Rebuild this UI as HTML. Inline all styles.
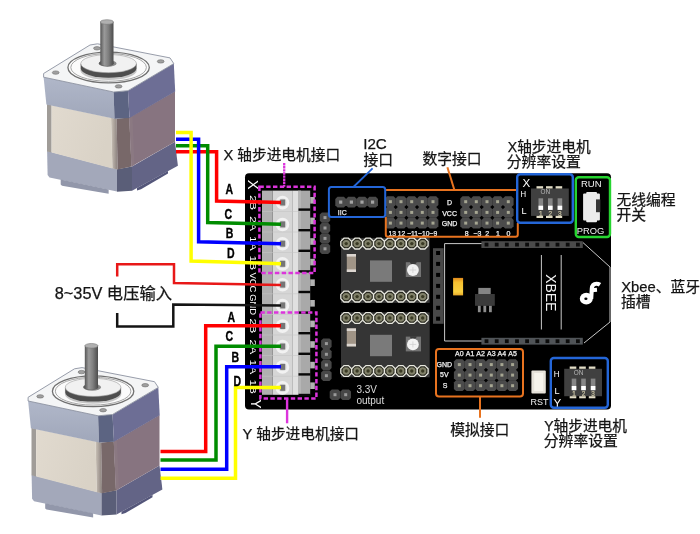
<!DOCTYPE html>
<html lang="zh"><head><meta charset="utf-8"><title>Stepper shield wiring</title>
<style>
html,body{margin:0;padding:0;background:#fff;overflow:hidden;}
svg{display:block;font-family:"Liberation Sans", "Noto Sans CJK SC", sans-serif;filter:blur(0.45px);}
</style></head>
<body>
<svg width="700" height="534" viewBox="0 0 700 534">
<defs>
<linearGradient id="gShaft" x1="0" y1="0" x2="1" y2="0">
<stop offset="0" stop-color="#565656"/><stop offset="0.3" stop-color="#9a9a9a"/><stop offset="0.6" stop-color="#808080"/><stop offset="1" stop-color="#4c4c4c"/>
</linearGradient>
<linearGradient id="gCapL" x1="0" y1="0" x2="0" y2="1">
<stop offset="0" stop-color="#b0b7c9"/><stop offset="1" stop-color="#a0a7ba"/>
</linearGradient>
<linearGradient id="gBeige" x1="0" y1="0" x2="1" y2="0.3">
<stop offset="0" stop-color="#e1dacf"/><stop offset="1" stop-color="#d9d2c6"/>
</linearGradient>
<linearGradient id="gStrip" x1="0" y1="0" x2="1" y2="0">
<stop offset="0" stop-color="#cbc3b8"/><stop offset="1" stop-color="#8a807d"/>
</linearGradient>
<linearGradient id="gLed" x1="0" y1="0" x2="0" y2="1">
<stop offset="0" stop-color="#e08a1c"/><stop offset="0.25" stop-color="#f6c030"/><stop offset="0.8" stop-color="#f8d040"/><stop offset="1" stop-color="#e8a828"/>
</linearGradient>
</defs>
<rect width="700" height="534" fill="#ffffff"/>
<rect x="245" y="173.3" width="366" height="236.2" rx="4" fill="#000000"/>
<g>
<!-- lower cap -->
<polygon points="47.1,151 117,169.3 117,191.6 49.5,177.5 47.6,175" fill="#a3a8ba"/>
<polygon points="60.7,179.5 108.6,189.5 108.6,193.8 62,185.8 60.7,184.6" fill="#9297aa"/>
<polygon points="117,169.3 132,166.4 132,190.7 117,191.8" fill="#5a5e78"/>
<polygon points="132,166.4 175,141.8 177.9,165.7 132,190.7" fill="#636486"/>
<polygon points="137,188 137,190.5 141,189.2 168,173.5 168,171" fill="#54567a"/>
<!-- mid -->
<polygon points="47,104 51.6,105.2 51.6,152.6 47,151.4" fill="#a09c98"/>
<polygon points="51.6,105.2 111,117.7 112.4,168.4 51.6,152.6" fill="url(#gBeige)"/>
<polygon points="111,117.7 116.6,118.8 117.6,169.4 112.4,168.4" fill="url(#gStrip)"/>
<polygon points="116.6,118.8 129.3,117.6 131.5,166.6 117.6,169.4" fill="#786869"/>
<polygon points="129.3,117.6 175,91.2 175,141.8 131.5,166.6" fill="#877480"/>
<polygon points="129.3,117.6 132.4,115.8 134.4,165 131.5,166.6" fill="#8b7982"/>
<!-- top cap -->
<polygon points="43.6,77 113.6,92 114.5,118.8 46.4,104.4" fill="url(#gCapL)"/>
<polygon points="113.6,92 128,90.7 129.5,118 114.5,118.8" fill="#5c6482"/>
<polygon points="128,90.7 173.8,63.6 175.2,91.4 129.5,118" fill="#6d6e95"/>
<!-- top face -->
<polygon points="43.6,73.5 90,45 97.5,43.8 170,57.9 173.8,63.6 128,90.7 113.6,92 43.6,77.2" fill="#f4f5f6" stroke="#8c92a0" stroke-width="0.9"/>
<ellipse cx="108.6" cy="67.5" rx="40.7" ry="15.4" fill="#fbfbfb" stroke="#707070" stroke-width="1.3"/>
<ellipse cx="108.6" cy="67.4" rx="37.8" ry="13.9" fill="none" stroke="#9c9c9c" stroke-width="0.9"/>
<path d="M80.4,64 L80.4,70.4 A28.2,9.6 0 0 0 136.8,70.4 L136.8,64 Z" fill="#c6c6c6"/>
<path d="M80.8,63.6 L80.8,68.6 A27.8,9.2 0 0 0 136.4,68.6 L136.4,63.6 Z" fill="#4e4e4e"/>
<ellipse cx="108.6" cy="63.6" rx="27.8" ry="9.1" fill="#f1f1f1" stroke="#9a9a9a" stroke-width="0.6"/>
<ellipse cx="107.6" cy="63.4" rx="9" ry="3.5" fill="#8a8a8a"/>
<ellipse cx="106.4" cy="63.2" rx="7.6" ry="2.9" fill="#5e5e5e"/>
<ellipse cx="55.7" cy="72.6" rx="3.4" ry="1.7" fill="#a0a0a0" stroke="#6a6a6a" stroke-width="0.6"/>
<ellipse cx="97" cy="48.3" rx="3.4" ry="1.7" fill="#a0a0a0" stroke="#6a6a6a" stroke-width="0.6"/>
<ellipse cx="160.7" cy="61.4" rx="3.4" ry="1.7" fill="#a0a0a0" stroke="#6a6a6a" stroke-width="0.6"/>
<ellipse cx="118.6" cy="86.4" rx="3.4" ry="1.7" fill="#a0a0a0" stroke="#6a6a6a" stroke-width="0.6"/>
<!-- shaft -->
<path d="M100.3,22 L100.3,63.6 A6.6,2.4 0 0 0 113.5,63.6 L113.5,22 Z" fill="url(#gShaft)"/>
<ellipse cx="106.9" cy="22" rx="6.6" ry="2.3" fill="#b0b0b0" stroke="#787878" stroke-width="0.6"/>
</g>
<g transform="translate(-15.5,323.8)">
<!-- lower cap -->
<polygon points="47.1,151 117,169.3 117,191.6 49.5,177.5 47.6,175" fill="#a3a8ba"/>
<polygon points="60.7,179.5 108.6,189.5 108.6,193.8 62,185.8 60.7,184.6" fill="#9297aa"/>
<polygon points="117,169.3 132,166.4 132,190.7 117,191.8" fill="#5a5e78"/>
<polygon points="132,166.4 175,141.8 177.9,165.7 132,190.7" fill="#636486"/>
<polygon points="137,188 137,190.5 141,189.2 168,173.5 168,171" fill="#54567a"/>
<!-- mid -->
<polygon points="47,104 51.6,105.2 51.6,152.6 47,151.4" fill="#a09c98"/>
<polygon points="51.6,105.2 111,117.7 112.4,168.4 51.6,152.6" fill="url(#gBeige)"/>
<polygon points="111,117.7 116.6,118.8 117.6,169.4 112.4,168.4" fill="url(#gStrip)"/>
<polygon points="116.6,118.8 129.3,117.6 131.5,166.6 117.6,169.4" fill="#786869"/>
<polygon points="129.3,117.6 175,91.2 175,141.8 131.5,166.6" fill="#877480"/>
<polygon points="129.3,117.6 132.4,115.8 134.4,165 131.5,166.6" fill="#8b7982"/>
<!-- top cap -->
<polygon points="43.6,77 113.6,92 114.5,118.8 46.4,104.4" fill="url(#gCapL)"/>
<polygon points="113.6,92 128,90.7 129.5,118 114.5,118.8" fill="#5c6482"/>
<polygon points="128,90.7 173.8,63.6 175.2,91.4 129.5,118" fill="#6d6e95"/>
<!-- top face -->
<polygon points="43.6,73.5 90,45 97.5,43.8 170,57.9 173.8,63.6 128,90.7 113.6,92 43.6,77.2" fill="#f4f5f6" stroke="#8c92a0" stroke-width="0.9"/>
<ellipse cx="108.6" cy="67.5" rx="40.7" ry="15.4" fill="#fbfbfb" stroke="#707070" stroke-width="1.3"/>
<ellipse cx="108.6" cy="67.4" rx="37.8" ry="13.9" fill="none" stroke="#9c9c9c" stroke-width="0.9"/>
<path d="M80.4,64 L80.4,70.4 A28.2,9.6 0 0 0 136.8,70.4 L136.8,64 Z" fill="#c6c6c6"/>
<path d="M80.8,63.6 L80.8,68.6 A27.8,9.2 0 0 0 136.4,68.6 L136.4,63.6 Z" fill="#4e4e4e"/>
<ellipse cx="108.6" cy="63.6" rx="27.8" ry="9.1" fill="#f1f1f1" stroke="#9a9a9a" stroke-width="0.6"/>
<ellipse cx="107.6" cy="63.4" rx="9" ry="3.5" fill="#8a8a8a"/>
<ellipse cx="106.4" cy="63.2" rx="7.6" ry="2.9" fill="#5e5e5e"/>
<ellipse cx="55.7" cy="72.6" rx="3.4" ry="1.7" fill="#a0a0a0" stroke="#6a6a6a" stroke-width="0.6"/>
<ellipse cx="97" cy="48.3" rx="3.4" ry="1.7" fill="#a0a0a0" stroke="#6a6a6a" stroke-width="0.6"/>
<ellipse cx="160.7" cy="61.4" rx="3.4" ry="1.7" fill="#a0a0a0" stroke="#6a6a6a" stroke-width="0.6"/>
<ellipse cx="118.6" cy="86.4" rx="3.4" ry="1.7" fill="#a0a0a0" stroke="#6a6a6a" stroke-width="0.6"/>
<!-- shaft -->
<path d="M100.3,22 L100.3,63.6 A6.6,2.4 0 0 0 113.5,63.6 L113.5,22 Z" fill="url(#gShaft)"/>
<ellipse cx="106.9" cy="22" rx="6.6" ry="2.3" fill="#b0b0b0" stroke="#787878" stroke-width="0.6"/>
</g>
<rect x="262" y="190.6" width="10.6" height="204.2" fill="#b0b0b0"/>
<rect x="272.6" y="190.6" width="19.6" height="204.2" fill="#d6d6d6"/>
<rect x="292.2" y="190.6" width="5.8" height="204.2" fill="#e0e0e0"/>
<rect x="298" y="190.6" width="12.2" height="204.2" fill="#a9a9a9"/>
<rect x="298" y="190.6" width="3" height="204.2" fill="#b6b6b6"/>
<rect x="310.2" y="197.0" width="4.6" height="6.6" fill="#b2b2b2"/>
<rect x="298.5" y="208.4" width="12" height="2.4" fill="#080808"/>
<rect x="262" y="211.0" width="36" height="0.8" fill="#c4c4c4" opacity="0.7"/>
<circle cx="282.5" cy="202.6" r="6.8" fill="#f2f2f2"/>
<circle cx="282.5" cy="202.6" r="4.1" fill="#dcdcdc"/>
<rect x="280.2" y="199.5" width="5" height="6" fill="#767676"/>
<rect x="310.2" y="217.6" width="4.6" height="6.6" fill="#b2b2b2"/>
<rect x="298.5" y="229.0" width="12" height="2.4" fill="#080808"/>
<rect x="262" y="231.6" width="36" height="0.8" fill="#c4c4c4" opacity="0.7"/>
<circle cx="282.5" cy="224.5" r="6.8" fill="#f2f2f2"/>
<circle cx="282.5" cy="224.5" r="4.1" fill="#dcdcdc"/>
<rect x="280.2" y="221.4" width="5" height="6" fill="#767676"/>
<rect x="310.2" y="238.2" width="4.6" height="6.6" fill="#b2b2b2"/>
<rect x="298.5" y="249.6" width="12" height="2.4" fill="#080808"/>
<rect x="262" y="252.2" width="36" height="0.8" fill="#c4c4c4" opacity="0.7"/>
<circle cx="282.5" cy="243.8" r="6.8" fill="#f2f2f2"/>
<circle cx="282.5" cy="243.8" r="4.1" fill="#dcdcdc"/>
<rect x="280.2" y="240.7" width="5" height="6" fill="#767676"/>
<rect x="310.2" y="258.8" width="4.6" height="6.6" fill="#b2b2b2"/>
<rect x="298.5" y="270.2" width="12" height="2.4" fill="#080808"/>
<rect x="262" y="272.8" width="36" height="0.8" fill="#c4c4c4" opacity="0.7"/>
<circle cx="282.5" cy="263.9" r="6.8" fill="#f2f2f2"/>
<circle cx="282.5" cy="263.9" r="4.1" fill="#dcdcdc"/>
<rect x="280.2" y="260.8" width="5" height="6" fill="#767676"/>
<rect x="310.2" y="279.4" width="4.6" height="6.6" fill="#b2b2b2"/>
<rect x="298.5" y="290.8" width="12" height="2.4" fill="#080808"/>
<rect x="262" y="293.4" width="36" height="0.8" fill="#c4c4c4" opacity="0.7"/>
<circle cx="282.5" cy="284.7" r="6.8" fill="#f2f2f2"/>
<circle cx="282.5" cy="284.7" r="4.1" fill="#dcdcdc"/>
<rect x="280.2" y="281.6" width="5" height="6" fill="#767676"/>
<rect x="310.2" y="300.0" width="4.6" height="6.6" fill="#b2b2b2"/>
<rect x="298.5" y="311.4" width="12" height="2.4" fill="#080808"/>
<rect x="262" y="314.0" width="36" height="0.8" fill="#c4c4c4" opacity="0.7"/>
<circle cx="282.5" cy="305.5" r="6.8" fill="#f2f2f2"/>
<circle cx="282.5" cy="305.5" r="4.1" fill="#dcdcdc"/>
<rect x="280.2" y="302.4" width="5" height="6" fill="#767676"/>
<rect x="310.2" y="320.6" width="4.6" height="6.6" fill="#b2b2b2"/>
<rect x="298.5" y="332.0" width="12" height="2.4" fill="#080808"/>
<rect x="262" y="334.6" width="36" height="0.8" fill="#c4c4c4" opacity="0.7"/>
<circle cx="282.5" cy="326.1" r="6.8" fill="#f2f2f2"/>
<circle cx="282.5" cy="326.1" r="4.1" fill="#dcdcdc"/>
<rect x="280.2" y="323.0" width="5" height="6" fill="#767676"/>
<rect x="310.2" y="341.2" width="4.6" height="6.6" fill="#b2b2b2"/>
<rect x="298.5" y="352.6" width="12" height="2.4" fill="#080808"/>
<rect x="262" y="355.2" width="36" height="0.8" fill="#c4c4c4" opacity="0.7"/>
<circle cx="282.5" cy="346.6" r="6.8" fill="#f2f2f2"/>
<circle cx="282.5" cy="346.6" r="4.1" fill="#dcdcdc"/>
<rect x="280.2" y="343.5" width="5" height="6" fill="#767676"/>
<rect x="310.2" y="361.8" width="4.6" height="6.6" fill="#b2b2b2"/>
<rect x="298.5" y="373.2" width="12" height="2.4" fill="#080808"/>
<rect x="262" y="375.8" width="36" height="0.8" fill="#c4c4c4" opacity="0.7"/>
<circle cx="282.5" cy="367.0" r="6.8" fill="#f2f2f2"/>
<circle cx="282.5" cy="367.0" r="4.1" fill="#dcdcdc"/>
<rect x="280.2" y="363.9" width="5" height="6" fill="#767676"/>
<rect x="310.2" y="382.4" width="4.6" height="6.6" fill="#b2b2b2"/>
<rect x="298.5" y="393.8" width="12" height="2.4" fill="#080808"/>
<circle cx="282.5" cy="387.9" r="6.8" fill="#f2f2f2"/>
<circle cx="282.5" cy="387.9" r="4.1" fill="#dcdcdc"/>
<rect x="280.2" y="384.8" width="5" height="6" fill="#767676"/>
<text transform="translate(249.8,195.2) rotate(90)" font-size="9.4" fill="#ffffff" textLength="14.8" lengthAdjust="spacingAndGlyphs">2B</text>
<text transform="translate(249.8,216.3) rotate(90)" font-size="9.4" fill="#ffffff" textLength="14.7" lengthAdjust="spacingAndGlyphs">2A</text>
<text transform="translate(249.8,236.0) rotate(90)" font-size="9.4" fill="#ffffff" textLength="14.6" lengthAdjust="spacingAndGlyphs">1A</text>
<text transform="translate(249.8,255.6) rotate(90)" font-size="9.4" fill="#ffffff" textLength="14.4" lengthAdjust="spacingAndGlyphs">1B</text>
<text transform="translate(249.8,272.4) rotate(90)" font-size="9.4" fill="#ffffff" textLength="20.1" lengthAdjust="spacingAndGlyphs">VCC</text>
<text transform="translate(249.8,294.2) rotate(90)" font-size="9.4" fill="#ffffff" textLength="20.8" lengthAdjust="spacingAndGlyphs">GND</text>
<text transform="translate(249.8,318.5) rotate(90)" font-size="9.4" fill="#ffffff" textLength="14.8" lengthAdjust="spacingAndGlyphs">2B</text>
<text transform="translate(249.8,339.5) rotate(90)" font-size="9.4" fill="#ffffff" textLength="14.7" lengthAdjust="spacingAndGlyphs">2A</text>
<text transform="translate(249.8,359.5) rotate(90)" font-size="9.4" fill="#ffffff" textLength="14.7" lengthAdjust="spacingAndGlyphs">1A</text>
<text transform="translate(249.8,379.5) rotate(90)" font-size="9.4" fill="#ffffff" textLength="14.5" lengthAdjust="spacingAndGlyphs">1B</text>
<text transform="translate(248.4,179.8) rotate(90)" font-size="15" fill="#fff" textLength="9.8" lengthAdjust="spacingAndGlyphs">X</text>
<text transform="translate(251,399.6) rotate(90)" font-size="14" fill="#fff" textLength="9" lengthAdjust="spacingAndGlyphs">Y</text>
<rect x="259.4" y="186.8" width="55.2" height="86.3" fill="none" stroke="#dc34dc" stroke-width="2.5" stroke-dasharray="4.4 2.4"/>
<rect x="260.4" y="312.6" width="56" height="86" fill="none" stroke="#dc34dc" stroke-width="2.5" stroke-dasharray="4.4 2.4"/>
<line x1="284.2" y1="163" x2="284.2" y2="186.8" stroke="#dc34dc" stroke-width="2.3" stroke-dasharray="2.4 0.7"/>
<line x1="287.1" y1="398.6" x2="287.1" y2="423.3" stroke="#dc34dc" stroke-width="2.4"/>
<path d="M176.0,151.7 L216.6,151.7 L216.6,201.1 L281.0,202.5" fill="none" stroke="#ff0000" stroke-width="3.5" stroke-linejoin="miter"/>
<path d="M176.0,145.7 L207.7,145.7 L207.7,222.6 L281.0,224.2" fill="none" stroke="#008c00" stroke-width="3.5" stroke-linejoin="miter"/>
<path d="M176.0,139.3 L198.6,139.3 L198.6,241.7 L281.0,243.7" fill="none" stroke="#0000ff" stroke-width="3.5" stroke-linejoin="miter"/>
<path d="M176.0,132.6 L191.1,132.6 L191.1,261.0 L281.0,263.7" fill="none" stroke="#ffff00" stroke-width="3.5" stroke-linejoin="miter"/>
<path d="M117.2,276.5 L117.2,264.3 L174.0,264.3 L174.0,283.0 L281.0,285.0" fill="none" stroke="#e81818" stroke-width="2.5" stroke-linejoin="miter"/>
<path d="M117.2,313.0 L117.2,326.4 L173.3,326.4 L173.3,304.4 L281.0,305.4" fill="none" stroke="#141414" stroke-width="2.5" stroke-linejoin="miter"/>
<path d="M160.5,478.3 L235.5,478.3 L235.5,387.6 L281.0,387.6" fill="none" stroke="#ffff00" stroke-width="3.5" stroke-linejoin="miter"/>
<path d="M160.5,469.2 L226.7,469.2 L226.7,366.7 L281.0,366.7" fill="none" stroke="#0000ff" stroke-width="3.5" stroke-linejoin="miter"/>
<path d="M160.5,460.0 L216.0,460.0 L216.0,346.3 L281.0,346.3" fill="none" stroke="#008c00" stroke-width="3.5" stroke-linejoin="miter"/>
<path d="M160.5,451.4 L205.7,451.4 L205.7,325.8 L281.0,325.8" fill="none" stroke="#ff0000" stroke-width="3.5" stroke-linejoin="miter"/>
<text x="225.5" y="194.0" font-size="14" font-weight="bold" fill="#000" stroke="#000" stroke-width="0.35" textLength="7.6" lengthAdjust="spacingAndGlyphs">A</text>
<text x="224.5" y="219.4" font-size="14" font-weight="bold" fill="#000" stroke="#000" stroke-width="0.35" textLength="7.6" lengthAdjust="spacingAndGlyphs">C</text>
<text x="225.7" y="238.4" font-size="14" font-weight="bold" fill="#000" stroke="#000" stroke-width="0.35" textLength="7.6" lengthAdjust="spacingAndGlyphs">B</text>
<text x="226.9" y="258.0" font-size="14" font-weight="bold" fill="#000" stroke="#000" stroke-width="0.35" textLength="7.6" lengthAdjust="spacingAndGlyphs">D</text>
<text x="227.6" y="321.8" font-size="14" font-weight="bold" fill="#000" stroke="#000" stroke-width="0.35" textLength="7.6" lengthAdjust="spacingAndGlyphs">A</text>
<text x="225.4" y="340.6" font-size="14" font-weight="bold" fill="#000" stroke="#000" stroke-width="0.35" textLength="7.6" lengthAdjust="spacingAndGlyphs">C</text>
<text x="231.4" y="361.5" font-size="14" font-weight="bold" fill="#000" stroke="#000" stroke-width="0.35" textLength="7.6" lengthAdjust="spacingAndGlyphs">B</text>
<text x="233.6" y="385.5" font-size="14" font-weight="bold" fill="#000" stroke="#000" stroke-width="0.35" textLength="7.6" lengthAdjust="spacingAndGlyphs">D</text>
<polygon points="321.9,212.4 328.1,212.4 330.2,214.5 330.2,220.7 328.1,222.8 321.9,222.8 319.8,220.7 319.8,214.5" fill="#474747"/><rect x="323.5" y="216.1" width="3" height="3" fill="#9a9a9a"/>
<polygon points="321.9,222.8 328.1,222.8 330.2,224.9 330.2,231.1 328.1,233.2 321.9,233.2 319.8,231.1 319.8,224.9" fill="#474747"/><rect x="323.5" y="226.5" width="3" height="3" fill="#9a9a9a"/>
<polygon points="321.9,233.2 328.1,233.2 330.2,235.3 330.2,241.5 328.1,243.6 321.9,243.6 319.8,241.5 319.8,235.3" fill="#474747"/><rect x="323.5" y="236.9" width="3" height="3" fill="#9a9a9a"/>
<polygon points="321.9,243.6 328.1,243.6 330.2,245.7 330.2,251.9 328.1,254.0 321.9,254.0 319.8,251.9 319.8,245.7" fill="#474747"/><rect x="323.5" y="247.3" width="3" height="3" fill="#9a9a9a"/>
<polygon points="323.2,338.4 329.5,338.4 331.6,340.5 331.6,346.8 329.5,348.9 323.2,348.9 321.1,346.8 321.1,340.5" fill="#474747"/><rect x="324.9" y="342.1" width="3" height="3" fill="#9a9a9a"/>
<polygon points="323.2,349.1 329.5,349.1 331.6,351.2 331.6,357.4 329.5,359.6 323.2,359.6 321.1,357.4 321.1,351.2" fill="#474747"/><rect x="324.9" y="352.8" width="3" height="3" fill="#9a9a9a"/>
<polygon points="323.2,359.8 329.5,359.8 331.6,361.9 331.6,368.1 329.5,370.2 323.2,370.2 321.1,368.1 321.1,361.9" fill="#474747"/><rect x="324.9" y="363.5" width="3" height="3" fill="#9a9a9a"/>
<polygon points="323.2,370.4 329.5,370.4 331.6,372.6 331.6,378.8 329.5,380.9 323.2,380.9 321.1,378.8 321.1,372.6" fill="#474747"/><rect x="324.9" y="374.2" width="3" height="3" fill="#9a9a9a"/>
<polygon points="331.8,389.4 338.2,389.4 340.3,391.5 340.3,397.9 338.2,400.0 331.8,400.0 329.7,397.9 329.7,391.5" fill="#474747"/><rect x="333.5" y="393.2" width="3" height="3" fill="#9a9a9a"/>
<polygon points="342.5,389.4 348.9,389.4 351.0,391.5 351.0,397.9 348.9,400.0 342.5,400.0 340.4,397.9 340.4,391.5" fill="#474747"/><rect x="344.2" y="393.2" width="3" height="3" fill="#9a9a9a"/>
<text x="356.4" y="393" font-size="10" fill="#dcdcdc">3.3V</text>
<text x="356.4" y="403.8" font-size="10" fill="#dcdcdc">output</text>
<polygon points="337.5,196.8 343.9,196.8 346.1,198.9 346.1,205.3 343.9,207.4 337.5,207.4 335.3,205.3 335.3,198.9" fill="#4a4a4a"/><rect x="339.1" y="200.5" width="3.2" height="3.2" fill="#a4a4a4"/>
<polygon points="348.2,196.8 354.6,196.8 356.8,198.9 356.8,205.3 354.6,207.4 348.2,207.4 346.0,205.3 346.0,198.9" fill="#4a4a4a"/><rect x="349.8" y="200.5" width="3.2" height="3.2" fill="#a4a4a4"/>
<polygon points="358.8,196.8 365.2,196.8 367.4,198.9 367.4,205.3 365.2,207.4 358.8,207.4 356.6,205.3 356.6,198.9" fill="#4a4a4a"/><rect x="360.4" y="200.5" width="3.2" height="3.2" fill="#a4a4a4"/>
<polygon points="369.4,196.8 375.8,196.8 378.0,198.9 378.0,205.3 375.8,207.4 369.4,207.4 367.2,205.3 367.2,198.9" fill="#4a4a4a"/><rect x="371.0" y="200.5" width="3.2" height="3.2" fill="#a4a4a4"/>
<text x="337.8" y="214.8" font-size="7" fill="#e8e8e8" stroke="#e8e8e8" stroke-width="0.25">IIC</text>
<polygon points="387.2,196.3 393.6,196.3 395.8,198.5 395.8,204.9 393.6,207.0 387.2,207.0 385.0,204.9 385.0,198.5" fill="#4b4b4b"/><rect x="388.9" y="200.2" width="3.0" height="3.0" fill="#a6a692"/>
<polygon points="387.2,207.1 393.6,207.1 395.8,209.2 395.8,215.6 393.6,217.8 387.2,217.8 385.0,215.6 385.0,209.2" fill="#4b4b4b"/><rect x="388.9" y="210.9" width="3.0" height="3.0" fill="#a6a692"/>
<polygon points="387.2,217.8 393.6,217.8 395.8,219.9 395.8,226.3 393.6,228.4 387.2,228.4 385.0,226.3 385.0,219.9" fill="#4b4b4b"/><rect x="388.9" y="221.6" width="3.0" height="3.0" fill="#a6a692"/>
<polygon points="397.8,196.3 404.3,196.3 406.4,198.5 406.4,204.9 404.3,207.0 397.8,207.0 395.7,204.9 395.7,198.5" fill="#4b4b4b"/><rect x="399.5" y="200.2" width="3.0" height="3.0" fill="#a6a692"/>
<polygon points="397.8,207.1 404.3,207.1 406.4,209.2 406.4,215.6 404.3,217.8 397.8,217.8 395.7,215.6 395.7,209.2" fill="#4b4b4b"/><rect x="399.5" y="210.9" width="3.0" height="3.0" fill="#a6a692"/>
<polygon points="397.8,217.8 404.3,217.8 406.4,219.9 406.4,226.3 404.3,228.4 397.8,228.4 395.7,226.3 395.7,219.9" fill="#4b4b4b"/><rect x="399.5" y="221.6" width="3.0" height="3.0" fill="#a6a692"/>
<polygon points="408.5,196.3 414.9,196.3 417.1,198.5 417.1,204.9 414.9,207.0 408.5,207.0 406.3,204.9 406.3,198.5" fill="#4b4b4b"/><rect x="410.2" y="200.2" width="3.0" height="3.0" fill="#a6a692"/>
<polygon points="408.5,207.1 414.9,207.1 417.1,209.2 417.1,215.6 414.9,217.8 408.5,217.8 406.3,215.6 406.3,209.2" fill="#4b4b4b"/><rect x="410.2" y="210.9" width="3.0" height="3.0" fill="#a6a692"/>
<polygon points="408.5,217.8 414.9,217.8 417.1,219.9 417.1,226.3 414.9,228.4 408.5,228.4 406.3,226.3 406.3,219.9" fill="#4b4b4b"/><rect x="410.2" y="221.6" width="3.0" height="3.0" fill="#a6a692"/>
<polygon points="419.1,196.3 425.6,196.3 427.7,198.5 427.7,204.9 425.6,207.0 419.1,207.0 417.0,204.9 417.0,198.5" fill="#4b4b4b"/><rect x="420.8" y="200.2" width="3.0" height="3.0" fill="#a6a692"/>
<polygon points="419.1,207.1 425.6,207.1 427.7,209.2 427.7,215.6 425.6,217.8 419.1,217.8 417.0,215.6 417.0,209.2" fill="#4b4b4b"/><rect x="420.8" y="210.9" width="3.0" height="3.0" fill="#a6a692"/>
<polygon points="419.1,217.8 425.6,217.8 427.7,219.9 427.7,226.3 425.6,228.4 419.1,228.4 417.0,226.3 417.0,219.9" fill="#4b4b4b"/><rect x="420.8" y="221.6" width="3.0" height="3.0" fill="#a6a692"/>
<polygon points="429.8,196.3 436.2,196.3 438.4,198.5 438.4,204.9 436.2,207.0 429.8,207.0 427.6,204.9 427.6,198.5" fill="#4b4b4b"/><rect x="431.5" y="200.2" width="3.0" height="3.0" fill="#a6a692"/>
<polygon points="429.8,207.1 436.2,207.1 438.4,209.2 438.4,215.6 436.2,217.8 429.8,217.8 427.6,215.6 427.6,209.2" fill="#4b4b4b"/><rect x="431.5" y="210.9" width="3.0" height="3.0" fill="#a6a692"/>
<polygon points="429.8,217.8 436.2,217.8 438.4,219.9 438.4,226.3 436.2,228.4 429.8,228.4 427.6,226.3 427.6,219.9" fill="#4b4b4b"/><rect x="431.5" y="221.6" width="3.0" height="3.0" fill="#a6a692"/>
<polygon points="462.5,196.3 468.9,196.3 471.1,198.5 471.1,204.9 468.9,207.0 462.5,207.0 460.3,204.9 460.3,198.5" fill="#4b4b4b"/><rect x="464.2" y="200.2" width="3.0" height="3.0" fill="#a6a692"/>
<polygon points="462.5,207.1 468.9,207.1 471.1,209.2 471.1,215.6 468.9,217.8 462.5,217.8 460.3,215.6 460.3,209.2" fill="#4b4b4b"/><rect x="464.2" y="210.9" width="3.0" height="3.0" fill="#a6a692"/>
<polygon points="462.5,217.8 468.9,217.8 471.1,219.9 471.1,226.3 468.9,228.4 462.5,228.4 460.3,226.3 460.3,219.9" fill="#4b4b4b"/><rect x="464.2" y="221.6" width="3.0" height="3.0" fill="#a6a692"/>
<polygon points="473.1,196.3 479.6,196.3 481.7,198.5 481.7,204.9 479.6,207.0 473.1,207.0 471.0,204.9 471.0,198.5" fill="#4b4b4b"/><rect x="474.8" y="200.2" width="3.0" height="3.0" fill="#a6a692"/>
<polygon points="473.1,207.1 479.6,207.1 481.7,209.2 481.7,215.6 479.6,217.8 473.1,217.8 471.0,215.6 471.0,209.2" fill="#4b4b4b"/><rect x="474.8" y="210.9" width="3.0" height="3.0" fill="#a6a692"/>
<polygon points="473.1,217.8 479.6,217.8 481.7,219.9 481.7,226.3 479.6,228.4 473.1,228.4 471.0,226.3 471.0,219.9" fill="#4b4b4b"/><rect x="474.8" y="221.6" width="3.0" height="3.0" fill="#a6a692"/>
<polygon points="483.8,196.3 490.2,196.3 492.4,198.5 492.4,204.9 490.2,207.0 483.8,207.0 481.6,204.9 481.6,198.5" fill="#4b4b4b"/><rect x="485.5" y="200.2" width="3.0" height="3.0" fill="#a6a692"/>
<polygon points="483.8,207.1 490.2,207.1 492.4,209.2 492.4,215.6 490.2,217.8 483.8,217.8 481.6,215.6 481.6,209.2" fill="#4b4b4b"/><rect x="485.5" y="210.9" width="3.0" height="3.0" fill="#a6a692"/>
<polygon points="483.8,217.8 490.2,217.8 492.4,219.9 492.4,226.3 490.2,228.4 483.8,228.4 481.6,226.3 481.6,219.9" fill="#4b4b4b"/><rect x="485.5" y="221.6" width="3.0" height="3.0" fill="#a6a692"/>
<polygon points="494.4,196.3 500.9,196.3 503.0,198.5 503.0,204.9 500.9,207.0 494.4,207.0 492.3,204.9 492.3,198.5" fill="#4b4b4b"/><rect x="496.1" y="200.2" width="3.0" height="3.0" fill="#a6a692"/>
<polygon points="494.4,207.1 500.9,207.1 503.0,209.2 503.0,215.6 500.9,217.8 494.4,217.8 492.3,215.6 492.3,209.2" fill="#4b4b4b"/><rect x="496.1" y="210.9" width="3.0" height="3.0" fill="#a6a692"/>
<polygon points="494.4,217.8 500.9,217.8 503.0,219.9 503.0,226.3 500.9,228.4 494.4,228.4 492.3,226.3 492.3,219.9" fill="#4b4b4b"/><rect x="496.1" y="221.6" width="3.0" height="3.0" fill="#a6a692"/>
<polygon points="505.1,196.3 511.5,196.3 513.6,198.5 513.6,204.9 511.5,207.0 505.1,207.0 502.9,204.9 502.9,198.5" fill="#4b4b4b"/><rect x="506.8" y="200.2" width="3.0" height="3.0" fill="#a6a692"/>
<polygon points="505.1,207.1 511.5,207.1 513.6,209.2 513.6,215.6 511.5,217.8 505.1,217.8 502.9,215.6 502.9,209.2" fill="#4b4b4b"/><rect x="506.8" y="210.9" width="3.0" height="3.0" fill="#a6a692"/>
<polygon points="505.1,217.8 511.5,217.8 513.6,219.9 513.6,226.3 511.5,228.4 505.1,228.4 502.9,226.3 502.9,219.9" fill="#4b4b4b"/><rect x="506.8" y="221.6" width="3.0" height="3.0" fill="#a6a692"/>
<text x="449.6" y="205.0" font-size="7" fill="#f0f0f0" stroke="#f0f0f0" stroke-width="0.25" text-anchor="middle" >D</text>
<text x="449.6" y="215.8" font-size="7" fill="#f0f0f0" stroke="#f0f0f0" stroke-width="0.25" text-anchor="middle" >VCC</text>
<text x="449.6" y="226.2" font-size="7" fill="#f0f0f0" stroke="#f0f0f0" stroke-width="0.25" text-anchor="middle" >GND</text>
<text x="388.4" y="235.6" font-size="7" fill="#f0f0f0" stroke="#f0f0f0" stroke-width="0.25" textLength="48.8" lengthAdjust="spacingAndGlyphs">13 12 ~11~10~9</text>
<text x="466.8" y="235.6" font-size="7" fill="#f0f0f0" stroke="#f0f0f0" stroke-width="0.25" text-anchor="middle" >8</text>
<text x="477.4" y="235.6" font-size="7" fill="#f0f0f0" stroke="#f0f0f0" stroke-width="0.25" text-anchor="middle" >~3</text>
<text x="487.2" y="235.6" font-size="7" fill="#f0f0f0" stroke="#f0f0f0" stroke-width="0.25" text-anchor="middle" >2</text>
<text x="498.0" y="235.6" font-size="7" fill="#f0f0f0" stroke="#f0f0f0" stroke-width="0.25" text-anchor="middle" >1</text>
<text x="508.4" y="235.6" font-size="7" fill="#f0f0f0" stroke="#f0f0f0" stroke-width="0.25" text-anchor="middle" >0</text>
<rect x="341" y="237.9" width="88.7" height="65" fill="#353535"/>
<polygon points="344.0,238.2 348.4,238.2 351.6,241.4 351.6,245.8 348.4,249.0 344.0,249.0 340.8,245.8 340.8,241.4" fill="#26261c" stroke="#e8e8df" stroke-width="1.3"/><circle cx="346.2" cy="243.6" r="3.7" fill="#82826a"/><circle cx="346.2" cy="243.6" r="1.7" fill="#3a3a24"/>
<polygon points="344.0,291.2 348.4,291.2 351.6,294.4 351.6,298.8 348.4,302.0 344.0,302.0 340.8,298.8 340.8,294.4" fill="#26261c" stroke="#e8e8df" stroke-width="1.3"/><circle cx="346.2" cy="296.6" r="3.7" fill="#82826a"/><circle cx="346.2" cy="296.6" r="1.7" fill="#3a3a24"/>
<polygon points="355.0,238.2 359.3,238.2 362.5,241.4 362.5,245.8 359.3,249.0 355.0,249.0 351.7,245.8 351.7,241.4" fill="#26261c" stroke="#e8e8df" stroke-width="1.3"/><circle cx="357.1" cy="243.6" r="3.7" fill="#82826a"/><circle cx="357.1" cy="243.6" r="1.7" fill="#3a3a24"/>
<polygon points="355.0,291.2 359.3,291.2 362.5,294.4 362.5,298.8 359.3,302.0 355.0,302.0 351.7,298.8 351.7,294.4" fill="#26261c" stroke="#e8e8df" stroke-width="1.3"/><circle cx="357.1" cy="296.6" r="3.7" fill="#82826a"/><circle cx="357.1" cy="296.6" r="1.7" fill="#3a3a24"/>
<polygon points="365.9,238.2 370.2,238.2 373.5,241.4 373.5,245.8 370.2,249.0 365.9,249.0 362.7,245.8 362.7,241.4" fill="#26261c" stroke="#e8e8df" stroke-width="1.3"/><circle cx="368.1" cy="243.6" r="3.7" fill="#82826a"/><circle cx="368.1" cy="243.6" r="1.7" fill="#3a3a24"/>
<polygon points="365.9,291.2 370.2,291.2 373.5,294.4 373.5,298.8 370.2,302.0 365.9,302.0 362.7,298.8 362.7,294.4" fill="#26261c" stroke="#e8e8df" stroke-width="1.3"/><circle cx="368.1" cy="296.6" r="3.7" fill="#82826a"/><circle cx="368.1" cy="296.6" r="1.7" fill="#3a3a24"/>
<polygon points="376.8,238.2 381.1,238.2 384.4,241.4 384.4,245.8 381.1,249.0 376.8,249.0 373.6,245.8 373.6,241.4" fill="#26261c" stroke="#e8e8df" stroke-width="1.3"/><circle cx="379.0" cy="243.6" r="3.7" fill="#82826a"/><circle cx="379.0" cy="243.6" r="1.7" fill="#3a3a24"/>
<polygon points="376.8,291.2 381.1,291.2 384.4,294.4 384.4,298.8 381.1,302.0 376.8,302.0 373.6,298.8 373.6,294.4" fill="#26261c" stroke="#e8e8df" stroke-width="1.3"/><circle cx="379.0" cy="296.6" r="3.7" fill="#82826a"/><circle cx="379.0" cy="296.6" r="1.7" fill="#3a3a24"/>
<polygon points="387.8,238.2 392.1,238.2 395.3,241.4 395.3,245.8 392.1,249.0 387.8,249.0 384.5,245.8 384.5,241.4" fill="#26261c" stroke="#e8e8df" stroke-width="1.3"/><circle cx="389.9" cy="243.6" r="3.7" fill="#82826a"/><circle cx="389.9" cy="243.6" r="1.7" fill="#3a3a24"/>
<polygon points="387.8,291.2 392.1,291.2 395.3,294.4 395.3,298.8 392.1,302.0 387.8,302.0 384.5,298.8 384.5,294.4" fill="#26261c" stroke="#e8e8df" stroke-width="1.3"/><circle cx="389.9" cy="296.6" r="3.7" fill="#82826a"/><circle cx="389.9" cy="296.6" r="1.7" fill="#3a3a24"/>
<polygon points="398.7,238.2 403.0,238.2 406.2,241.4 406.2,245.8 403.0,249.0 398.7,249.0 395.4,245.8 395.4,241.4" fill="#26261c" stroke="#e8e8df" stroke-width="1.3"/><circle cx="400.8" cy="243.6" r="3.7" fill="#82826a"/><circle cx="400.8" cy="243.6" r="1.7" fill="#3a3a24"/>
<polygon points="398.7,291.2 403.0,291.2 406.2,294.4 406.2,298.8 403.0,302.0 398.7,302.0 395.4,298.8 395.4,294.4" fill="#26261c" stroke="#e8e8df" stroke-width="1.3"/><circle cx="400.8" cy="296.6" r="3.7" fill="#82826a"/><circle cx="400.8" cy="296.6" r="1.7" fill="#3a3a24"/>
<polygon points="409.6,238.2 413.9,238.2 417.2,241.4 417.2,245.8 413.9,249.0 409.6,249.0 406.4,245.8 406.4,241.4" fill="#26261c" stroke="#e8e8df" stroke-width="1.3"/><circle cx="411.8" cy="243.6" r="3.7" fill="#82826a"/><circle cx="411.8" cy="243.6" r="1.7" fill="#3a3a24"/>
<polygon points="409.6,291.2 413.9,291.2 417.2,294.4 417.2,298.8 413.9,302.0 409.6,302.0 406.4,298.8 406.4,294.4" fill="#26261c" stroke="#e8e8df" stroke-width="1.3"/><circle cx="411.8" cy="296.6" r="3.7" fill="#82826a"/><circle cx="411.8" cy="296.6" r="1.7" fill="#3a3a24"/>
<polygon points="420.6,238.2 424.9,238.2 428.1,241.4 428.1,245.8 424.9,249.0 420.6,249.0 417.3,245.8 417.3,241.4" fill="#26261c" stroke="#e8e8df" stroke-width="1.3"/><circle cx="422.7" cy="243.6" r="3.7" fill="#82826a"/><circle cx="422.7" cy="243.6" r="1.7" fill="#3a3a24"/>
<polygon points="420.6,291.2 424.9,291.2 428.1,294.4 428.1,298.8 424.9,302.0 420.6,302.0 417.3,298.8 417.3,294.4" fill="#26261c" stroke="#e8e8df" stroke-width="1.3"/><circle cx="422.7" cy="296.6" r="3.7" fill="#82826a"/><circle cx="422.7" cy="296.6" r="1.7" fill="#3a3a24"/>
<rect x="346.8" y="254.0" width="9.2" height="18" fill="#a09486"/>
<rect x="346.8" y="254.0" width="9.2" height="2.6" fill="#dcd6d0"/>
<rect x="346.8" y="269.4" width="9.2" height="2.6" fill="#dcd6d0"/>
<rect x="370" y="260.4" width="22" height="21.4" fill="#7a7a7a"/>
<rect x="405.8" y="262.2" width="15.2" height="14.8" fill="#747474"/>
<path d="M410,261.8 A3.3,2.8 0 0 0 416.6,261.8 Z" fill="#3a3a3a"/>
<circle cx="412.9" cy="270.0" r="5.9" fill="#f2f2f2"/>
<path d="M409.6,270.0 H416.2 M412.9,267.0 V273.0" stroke="#cfcfcf" stroke-width="0.8" fill="none"/>
<rect x="341" y="312.3" width="88.7" height="65" fill="#353535"/>
<polygon points="344.0,312.6 348.4,312.6 351.6,315.8 351.6,320.2 348.4,323.4 344.0,323.4 340.8,320.2 340.8,315.8" fill="#26261c" stroke="#e8e8df" stroke-width="1.3"/><circle cx="346.2" cy="318.0" r="3.7" fill="#82826a"/><circle cx="346.2" cy="318.0" r="1.7" fill="#3a3a24"/>
<polygon points="344.0,365.6 348.4,365.6 351.6,368.8 351.6,373.2 348.4,376.4 344.0,376.4 340.8,373.2 340.8,368.8" fill="#26261c" stroke="#e8e8df" stroke-width="1.3"/><circle cx="346.2" cy="371.0" r="3.7" fill="#82826a"/><circle cx="346.2" cy="371.0" r="1.7" fill="#3a3a24"/>
<polygon points="355.0,312.6 359.3,312.6 362.5,315.8 362.5,320.2 359.3,323.4 355.0,323.4 351.7,320.2 351.7,315.8" fill="#26261c" stroke="#e8e8df" stroke-width="1.3"/><circle cx="357.1" cy="318.0" r="3.7" fill="#82826a"/><circle cx="357.1" cy="318.0" r="1.7" fill="#3a3a24"/>
<polygon points="355.0,365.6 359.3,365.6 362.5,368.8 362.5,373.2 359.3,376.4 355.0,376.4 351.7,373.2 351.7,368.8" fill="#26261c" stroke="#e8e8df" stroke-width="1.3"/><circle cx="357.1" cy="371.0" r="3.7" fill="#82826a"/><circle cx="357.1" cy="371.0" r="1.7" fill="#3a3a24"/>
<polygon points="365.9,312.6 370.2,312.6 373.5,315.8 373.5,320.2 370.2,323.4 365.9,323.4 362.7,320.2 362.7,315.8" fill="#26261c" stroke="#e8e8df" stroke-width="1.3"/><circle cx="368.1" cy="318.0" r="3.7" fill="#82826a"/><circle cx="368.1" cy="318.0" r="1.7" fill="#3a3a24"/>
<polygon points="365.9,365.6 370.2,365.6 373.5,368.8 373.5,373.2 370.2,376.4 365.9,376.4 362.7,373.2 362.7,368.8" fill="#26261c" stroke="#e8e8df" stroke-width="1.3"/><circle cx="368.1" cy="371.0" r="3.7" fill="#82826a"/><circle cx="368.1" cy="371.0" r="1.7" fill="#3a3a24"/>
<polygon points="376.8,312.6 381.1,312.6 384.4,315.8 384.4,320.2 381.1,323.4 376.8,323.4 373.6,320.2 373.6,315.8" fill="#26261c" stroke="#e8e8df" stroke-width="1.3"/><circle cx="379.0" cy="318.0" r="3.7" fill="#82826a"/><circle cx="379.0" cy="318.0" r="1.7" fill="#3a3a24"/>
<polygon points="376.8,365.6 381.1,365.6 384.4,368.8 384.4,373.2 381.1,376.4 376.8,376.4 373.6,373.2 373.6,368.8" fill="#26261c" stroke="#e8e8df" stroke-width="1.3"/><circle cx="379.0" cy="371.0" r="3.7" fill="#82826a"/><circle cx="379.0" cy="371.0" r="1.7" fill="#3a3a24"/>
<polygon points="387.8,312.6 392.1,312.6 395.3,315.8 395.3,320.2 392.1,323.4 387.8,323.4 384.5,320.2 384.5,315.8" fill="#26261c" stroke="#e8e8df" stroke-width="1.3"/><circle cx="389.9" cy="318.0" r="3.7" fill="#82826a"/><circle cx="389.9" cy="318.0" r="1.7" fill="#3a3a24"/>
<polygon points="387.8,365.6 392.1,365.6 395.3,368.8 395.3,373.2 392.1,376.4 387.8,376.4 384.5,373.2 384.5,368.8" fill="#26261c" stroke="#e8e8df" stroke-width="1.3"/><circle cx="389.9" cy="371.0" r="3.7" fill="#82826a"/><circle cx="389.9" cy="371.0" r="1.7" fill="#3a3a24"/>
<polygon points="398.7,312.6 403.0,312.6 406.2,315.8 406.2,320.2 403.0,323.4 398.7,323.4 395.4,320.2 395.4,315.8" fill="#26261c" stroke="#e8e8df" stroke-width="1.3"/><circle cx="400.8" cy="318.0" r="3.7" fill="#82826a"/><circle cx="400.8" cy="318.0" r="1.7" fill="#3a3a24"/>
<polygon points="398.7,365.6 403.0,365.6 406.2,368.8 406.2,373.2 403.0,376.4 398.7,376.4 395.4,373.2 395.4,368.8" fill="#26261c" stroke="#e8e8df" stroke-width="1.3"/><circle cx="400.8" cy="371.0" r="3.7" fill="#82826a"/><circle cx="400.8" cy="371.0" r="1.7" fill="#3a3a24"/>
<polygon points="409.6,312.6 413.9,312.6 417.2,315.8 417.2,320.2 413.9,323.4 409.6,323.4 406.4,320.2 406.4,315.8" fill="#26261c" stroke="#e8e8df" stroke-width="1.3"/><circle cx="411.8" cy="318.0" r="3.7" fill="#82826a"/><circle cx="411.8" cy="318.0" r="1.7" fill="#3a3a24"/>
<polygon points="409.6,365.6 413.9,365.6 417.2,368.8 417.2,373.2 413.9,376.4 409.6,376.4 406.4,373.2 406.4,368.8" fill="#26261c" stroke="#e8e8df" stroke-width="1.3"/><circle cx="411.8" cy="371.0" r="3.7" fill="#82826a"/><circle cx="411.8" cy="371.0" r="1.7" fill="#3a3a24"/>
<polygon points="420.6,312.6 424.9,312.6 428.1,315.8 428.1,320.2 424.9,323.4 420.6,323.4 417.3,320.2 417.3,315.8" fill="#26261c" stroke="#e8e8df" stroke-width="1.3"/><circle cx="422.7" cy="318.0" r="3.7" fill="#82826a"/><circle cx="422.7" cy="318.0" r="1.7" fill="#3a3a24"/>
<polygon points="420.6,365.6 424.9,365.6 428.1,368.8 428.1,373.2 424.9,376.4 420.6,376.4 417.3,373.2 417.3,368.8" fill="#26261c" stroke="#e8e8df" stroke-width="1.3"/><circle cx="422.7" cy="371.0" r="3.7" fill="#82826a"/><circle cx="422.7" cy="371.0" r="1.7" fill="#3a3a24"/>
<rect x="346.8" y="328.4" width="9.2" height="18" fill="#a09486"/>
<rect x="346.8" y="328.4" width="9.2" height="2.6" fill="#dcd6d0"/>
<rect x="346.8" y="343.8" width="9.2" height="2.6" fill="#dcd6d0"/>
<rect x="370" y="334.8" width="22" height="21.4" fill="#7a7a7a"/>
<rect x="405.8" y="336.6" width="15.2" height="14.8" fill="#747474"/>
<path d="M410,336.2 A3.3,2.8 0 0 0 416.6,336.2 Z" fill="#3a3a3a"/>
<circle cx="412.9" cy="344.4" r="5.9" fill="#f2f2f2"/>
<path d="M409.6,344.4 H416.2 M412.9,341.4 V347.4" stroke="#cfcfcf" stroke-width="0.8" fill="none"/>
<path d="M482,243.6 L444.6,243.6 L444.6,341 L482,341" fill="none" stroke="#c8c8c8" stroke-width="1"/>
<path d="M583,242.6 L610,267 L610,322 L584,343" fill="none" stroke="#c8c8c8" stroke-width="1"/>
<line x1="541.4" y1="255" x2="541.4" y2="329.5" stroke="#c8c8c8" stroke-width="1"/>
<line x1="561.2" y1="255" x2="561.2" y2="329.5" stroke="#c8c8c8" stroke-width="1"/>
<text transform="translate(545.6,274.3) rotate(90)" font-size="14.5" fill="#f4f4f4" textLength="37" lengthAdjust="spacingAndGlyphs">XBEE</text>
<rect x="433" y="248.2" width="10.6" height="75.6" fill="#484848"/>
<rect x="436.1" y="251.0" width="4" height="4" fill="#000"/>
<rect x="436.1" y="261.9" width="4" height="4" fill="#000"/>
<rect x="436.1" y="272.9" width="4" height="4" fill="#000"/>
<rect x="436.1" y="283.9" width="4" height="4" fill="#000"/>
<rect x="436.1" y="294.8" width="4" height="4" fill="#000"/>
<rect x="436.1" y="305.8" width="4" height="4" fill="#000"/>
<rect x="436.1" y="316.7" width="4" height="4" fill="#000"/>
<rect x="481.4" y="241.2" width="101.4" height="6.8" fill="#4a4a4a"/>
<rect x="484.6" y="242.7" width="3.8" height="3.8" fill="#0c0c0c"/>
<rect x="494.8" y="242.7" width="3.8" height="3.8" fill="#0c0c0c"/>
<rect x="504.9" y="242.7" width="3.8" height="3.8" fill="#0c0c0c"/>
<rect x="515.1" y="242.7" width="3.8" height="3.8" fill="#0c0c0c"/>
<rect x="525.2" y="242.7" width="3.8" height="3.8" fill="#0c0c0c"/>
<rect x="535.4" y="242.7" width="3.8" height="3.8" fill="#0c0c0c"/>
<rect x="545.5" y="242.7" width="3.8" height="3.8" fill="#0c0c0c"/>
<rect x="555.6" y="242.7" width="3.8" height="3.8" fill="#0c0c0c"/>
<rect x="565.8" y="242.7" width="3.8" height="3.8" fill="#0c0c0c"/>
<rect x="576.0" y="242.7" width="3.8" height="3.8" fill="#0c0c0c"/>
<rect x="481.4" y="337.8" width="101.4" height="6.8" fill="#505458"/>
<rect x="484.6" y="339.3" width="3.8" height="3.8" fill="#0c0c0c"/>
<rect x="494.8" y="339.3" width="3.8" height="3.8" fill="#0c0c0c"/>
<rect x="504.9" y="339.3" width="3.8" height="3.8" fill="#0c0c0c"/>
<rect x="515.1" y="339.3" width="3.8" height="3.8" fill="#0c0c0c"/>
<rect x="525.2" y="339.3" width="3.8" height="3.8" fill="#0c0c0c"/>
<rect x="535.4" y="339.3" width="3.8" height="3.8" fill="#0c0c0c"/>
<rect x="545.5" y="339.3" width="3.8" height="3.8" fill="#0c0c0c"/>
<rect x="555.6" y="339.3" width="3.8" height="3.8" fill="#0c0c0c"/>
<rect x="565.8" y="339.3" width="3.8" height="3.8" fill="#0c0c0c"/>
<rect x="576.0" y="339.3" width="3.8" height="3.8" fill="#0c0c0c"/>
<rect x="453.1" y="277.9" width="10" height="17.5" fill="url(#gLed)"/>
<rect x="478.3" y="287.9" width="12.4" height="6.4" fill="#848484"/>
<rect x="475" y="294" width="19.8" height="11.8" fill="#3a3a3a"/>
<rect x="477.9" y="305.8" width="2.8" height="6.4" fill="#8c8c8c"/>
<rect x="483.4" y="305.8" width="2.8" height="6.4" fill="#8c8c8c"/>
<rect x="489.0" y="305.8" width="2.8" height="6.4" fill="#8c8c8c"/>
<ellipse cx="586.3" cy="298.7" rx="6.5" ry="5.9" fill="#fff"/>
<path d="M591.2,299 L591.8,288.6 Q592.2,283.7 596.4,283.7 Q598.4,283.7 600,284.8" fill="none" stroke="#fff" stroke-width="4.1"/>
<path d="M591.6,290.2 L597,289.8" fill="none" stroke="#fff" stroke-width="4"/>
<ellipse cx="585.9" cy="298.8" rx="1.6" ry="1.25" fill="#000"/>
<polygon points="456.1,359.2 462.5,359.2 464.7,361.4 464.7,367.8 462.5,370.0 456.1,370.0 453.9,367.8 453.9,361.4" fill="#4b4b4b"/><rect x="457.8" y="363.1" width="3.0" height="3.0" fill="#a6a692"/>
<polygon points="456.1,369.8 462.5,369.8 464.7,371.9 464.7,378.3 462.5,380.5 456.1,380.5 453.9,378.3 453.9,371.9" fill="#4b4b4b"/><rect x="457.8" y="373.6" width="3.0" height="3.0" fill="#a6a692"/>
<polygon points="456.1,380.3 462.5,380.3 464.7,382.5 464.7,388.9 462.5,391.1 456.1,391.1 453.9,388.9 453.9,382.5" fill="#4b4b4b"/><rect x="457.8" y="384.2" width="3.0" height="3.0" fill="#a6a692"/>
<polygon points="466.8,359.2 473.2,359.2 475.3,361.4 475.3,367.8 473.2,370.0 466.8,370.0 464.6,367.8 464.6,361.4" fill="#4b4b4b"/><rect x="468.5" y="363.1" width="3.0" height="3.0" fill="#a6a692"/>
<polygon points="466.8,369.8 473.2,369.8 475.3,371.9 475.3,378.3 473.2,380.5 466.8,380.5 464.6,378.3 464.6,371.9" fill="#4b4b4b"/><rect x="468.5" y="373.6" width="3.0" height="3.0" fill="#a6a692"/>
<polygon points="466.8,380.3 473.2,380.3 475.3,382.5 475.3,388.9 473.2,391.1 466.8,391.1 464.6,388.9 464.6,382.5" fill="#4b4b4b"/><rect x="468.5" y="384.2" width="3.0" height="3.0" fill="#a6a692"/>
<polygon points="477.4,359.2 483.8,359.2 486.0,361.4 486.0,367.8 483.8,370.0 477.4,370.0 475.3,367.8 475.3,361.4" fill="#4b4b4b"/><rect x="479.1" y="363.1" width="3.0" height="3.0" fill="#a6a692"/>
<polygon points="477.4,369.8 483.8,369.8 486.0,371.9 486.0,378.3 483.8,380.5 477.4,380.5 475.3,378.3 475.3,371.9" fill="#4b4b4b"/><rect x="479.1" y="373.6" width="3.0" height="3.0" fill="#a6a692"/>
<polygon points="477.4,380.3 483.8,380.3 486.0,382.5 486.0,388.9 483.8,391.1 477.4,391.1 475.3,388.9 475.3,382.5" fill="#4b4b4b"/><rect x="479.1" y="384.2" width="3.0" height="3.0" fill="#a6a692"/>
<polygon points="488.1,359.2 494.5,359.2 496.6,361.4 496.6,367.8 494.5,370.0 488.1,370.0 485.9,367.8 485.9,361.4" fill="#4b4b4b"/><rect x="489.8" y="363.1" width="3.0" height="3.0" fill="#a6a692"/>
<polygon points="488.1,369.8 494.5,369.8 496.6,371.9 496.6,378.3 494.5,380.5 488.1,380.5 485.9,378.3 485.9,371.9" fill="#4b4b4b"/><rect x="489.8" y="373.6" width="3.0" height="3.0" fill="#a6a692"/>
<polygon points="488.1,380.3 494.5,380.3 496.6,382.5 496.6,388.9 494.5,391.1 488.1,391.1 485.9,388.9 485.9,382.5" fill="#4b4b4b"/><rect x="489.8" y="384.2" width="3.0" height="3.0" fill="#a6a692"/>
<polygon points="498.7,359.2 505.2,359.2 507.3,361.4 507.3,367.8 505.2,370.0 498.7,370.0 496.6,367.8 496.6,361.4" fill="#4b4b4b"/><rect x="500.4" y="363.1" width="3.0" height="3.0" fill="#a6a692"/>
<polygon points="498.7,369.8 505.2,369.8 507.3,371.9 507.3,378.3 505.2,380.5 498.7,380.5 496.6,378.3 496.6,371.9" fill="#4b4b4b"/><rect x="500.4" y="373.6" width="3.0" height="3.0" fill="#a6a692"/>
<polygon points="498.7,380.3 505.2,380.3 507.3,382.5 507.3,388.9 505.2,391.1 498.7,391.1 496.6,388.9 496.6,382.5" fill="#4b4b4b"/><rect x="500.4" y="384.2" width="3.0" height="3.0" fill="#a6a692"/>
<polygon points="509.4,359.2 515.8,359.2 518.0,361.4 518.0,367.8 515.8,370.0 509.4,370.0 507.2,367.8 507.2,361.4" fill="#4b4b4b"/><rect x="511.1" y="363.1" width="3.0" height="3.0" fill="#a6a692"/>
<polygon points="509.4,369.8 515.8,369.8 518.0,371.9 518.0,378.3 515.8,380.5 509.4,380.5 507.2,378.3 507.2,371.9" fill="#4b4b4b"/><rect x="511.1" y="373.6" width="3.0" height="3.0" fill="#a6a692"/>
<polygon points="509.4,380.3 515.8,380.3 518.0,382.5 518.0,388.9 515.8,391.1 509.4,391.1 507.2,388.9 507.2,382.5" fill="#4b4b4b"/><rect x="511.1" y="384.2" width="3.0" height="3.0" fill="#a6a692"/>
<text x="459.3" y="356.2" font-size="7" fill="#f0f0f0" stroke="#f0f0f0" stroke-width="0.25" text-anchor="middle" >A0</text>
<text x="470.0" y="356.2" font-size="7" fill="#f0f0f0" stroke="#f0f0f0" stroke-width="0.25" text-anchor="middle" >A1</text>
<text x="480.6" y="356.2" font-size="7" fill="#f0f0f0" stroke="#f0f0f0" stroke-width="0.25" text-anchor="middle" >A2</text>
<text x="491.3" y="356.2" font-size="7" fill="#f0f0f0" stroke="#f0f0f0" stroke-width="0.25" text-anchor="middle" >A3</text>
<text x="501.9" y="356.2" font-size="7" fill="#f0f0f0" stroke="#f0f0f0" stroke-width="0.25" text-anchor="middle" >A4</text>
<text x="512.6" y="356.2" font-size="7" fill="#f0f0f0" stroke="#f0f0f0" stroke-width="0.25" text-anchor="middle" >A5</text>
<text x="444.4" y="367.0" font-size="7" fill="#f0f0f0" stroke="#f0f0f0" stroke-width="0.25" text-anchor="middle" >GND</text>
<text x="444.4" y="377.2" font-size="7" fill="#f0f0f0" stroke="#f0f0f0" stroke-width="0.25" text-anchor="middle" >5V</text>
<text x="445.0" y="388.4" font-size="7" fill="#f0f0f0" stroke="#f0f0f0" stroke-width="0.25" text-anchor="middle" >S</text>
<rect x="531" y="188.5" width="37.8" height="27.4" fill="#404040"/>
<rect x="536.5" y="186.2" width="6.6" height="2.3" fill="#e2dcc6"/>
<rect x="536.5" y="215.9" width="6.6" height="2.1" fill="#e2dcc6"/>
<rect x="538.5" y="198.3" width="4.6" height="11.6" fill="#868686"/>
<rect x="538.5" y="205.7" width="4.6" height="4.2" fill="#ffffff"/>
<text x="540.8" y="215.5" font-size="6.4" fill="#c4bea0" stroke="#c4bea0" stroke-width="0.25" text-anchor="middle" >1</text>
<rect x="546.0" y="186.2" width="6.6" height="2.3" fill="#e2dcc6"/>
<rect x="546.0" y="215.9" width="6.6" height="2.1" fill="#e2dcc6"/>
<rect x="548.0" y="198.3" width="4.6" height="11.6" fill="#868686"/>
<rect x="548.0" y="205.7" width="4.6" height="4.2" fill="#ffffff"/>
<text x="550.3" y="215.5" font-size="6.4" fill="#c4bea0" stroke="#c4bea0" stroke-width="0.25" text-anchor="middle" >2</text>
<rect x="555.6" y="186.2" width="6.6" height="2.3" fill="#e2dcc6"/>
<rect x="555.6" y="215.9" width="6.6" height="2.1" fill="#e2dcc6"/>
<rect x="557.6" y="198.3" width="4.6" height="11.6" fill="#868686"/>
<rect x="557.6" y="205.7" width="4.6" height="4.2" fill="#ffffff"/>
<text x="559.9" y="215.5" font-size="6.4" fill="#c4bea0" stroke="#c4bea0" stroke-width="0.25" text-anchor="middle" >3</text>
<text x="540.6" y="194.3" font-size="6.4" fill="#b8b8b8">ON</text>
<rect x="564.2" y="368.8" width="37.8" height="27.4" fill="#404040"/>
<rect x="569.7" y="366.5" width="6.6" height="2.3" fill="#e2dcc6"/>
<rect x="569.7" y="396.2" width="6.6" height="2.1" fill="#e2dcc6"/>
<rect x="571.7" y="378.6" width="4.6" height="11.6" fill="#868686"/>
<rect x="571.7" y="386.0" width="4.6" height="4.2" fill="#ffffff"/>
<text x="574.0" y="395.8" font-size="6.4" fill="#c4bea0" stroke="#c4bea0" stroke-width="0.25" text-anchor="middle" >1</text>
<rect x="579.2" y="366.5" width="6.6" height="2.3" fill="#e2dcc6"/>
<rect x="579.2" y="396.2" width="6.6" height="2.1" fill="#e2dcc6"/>
<rect x="581.2" y="378.6" width="4.6" height="11.6" fill="#868686"/>
<rect x="581.2" y="386.0" width="4.6" height="4.2" fill="#ffffff"/>
<text x="583.5" y="395.8" font-size="6.4" fill="#c4bea0" stroke="#c4bea0" stroke-width="0.25" text-anchor="middle" >2</text>
<rect x="588.8" y="366.5" width="6.6" height="2.3" fill="#e2dcc6"/>
<rect x="588.8" y="396.2" width="6.6" height="2.1" fill="#e2dcc6"/>
<rect x="590.8" y="378.6" width="4.6" height="11.6" fill="#868686"/>
<rect x="590.8" y="386.0" width="4.6" height="4.2" fill="#ffffff"/>
<text x="593.1" y="395.8" font-size="6.4" fill="#c4bea0" stroke="#c4bea0" stroke-width="0.25" text-anchor="middle" >3</text>
<text x="573.8" y="374.6" font-size="6.4" fill="#b8b8b8">ON</text>
<rect x="583.1" y="193.6" width="16.8" height="26.8" rx="1" fill="#ececec"/>
<rect x="586.2" y="191.9" width="10.8" height="30.3" rx="1" fill="#ececec"/>
<rect x="596" y="199.4" width="4.4" height="12.8" fill="#363636"/>
<text x="581" y="186.6" font-size="9.6" fill="#f2f2f2" textLength="20.6" lengthAdjust="spacingAndGlyphs">RUN</text>
<text x="576.8" y="234.4" font-size="9.6" fill="#f2f2f2" textLength="27.6" lengthAdjust="spacingAndGlyphs">PROG</text>
<rect x="531.4" y="370.4" width="14.4" height="23.2" rx="1" fill="#e6e2da"/>
<rect x="534.2" y="373" width="9" height="18" fill="#f6f3ec"/>
<text x="530.6" y="405.2" font-size="9.6" fill="#f2f2f2" textLength="18" lengthAdjust="spacingAndGlyphs">RST</text>
<text x="522.4" y="186.6" font-size="11.6" fill="#fff">X</text>
<text x="520.6" y="196.9" font-size="9.2" fill="#fff" textLength="5.6" lengthAdjust="spacingAndGlyphs">H</text>
<text x="521.6" y="214.4" font-size="9.2" fill="#fff">L</text>
<text x="553.8" y="376.5" font-size="9.2" fill="#fff" textLength="5.8" lengthAdjust="spacingAndGlyphs">H</text>
<text x="554.4" y="393.8" font-size="9.2" fill="#fff">L</text>
<text x="553.4" y="406.6" font-size="11.6" fill="#fff">Y</text>
<path d="M385.8,217 L385.8,234.6 Q385.8,236.8 388,236.8 L515.6,236.8 Q517.8,236.8 517.8,234.6 L517.8,223 M517,190 L386,190" fill="none" stroke="#e8731f" stroke-width="2"/>
<line x1="454.4" y1="190" x2="447.4" y2="167.2" stroke="#e8731f" stroke-width="2"/>
<rect x="436" y="348.9" width="87" height="47.6" rx="3" fill="none" stroke="#e8731f" stroke-width="2"/>
<line x1="480" y1="396.5" x2="480" y2="417.8" stroke="#e8731f" stroke-width="2"/>
<rect x="328.9" y="186.9" width="56.3" height="30" rx="2.5" fill="none" stroke="#2466d8" stroke-width="2"/>
<line x1="353.4" y1="187" x2="372.6" y2="168.4" stroke="#2466d8" stroke-width="1.8"/>
<rect x="517.2" y="174.2" width="55.6" height="48.6" rx="3" fill="none" stroke="#2466d8" stroke-width="2.4"/>
<rect x="550.8" y="358" width="57" height="49.8" rx="3" fill="none" stroke="#2466d8" stroke-width="2.4"/>
<rect x="575.8" y="177.2" width="34.2" height="59.8" rx="3" fill="none" stroke="#26d430" stroke-width="2.4"/>
<text x="223.4" y="159.6" font-size="14.7" fill="#141414" stroke="#141414" stroke-width="0.25" >X 轴步进电机接口</text>
<text x="363.2" y="148.5" font-size="15.2" fill="#141414" stroke="#141414" stroke-width="0.25" >I2C</text>
<text x="363.4" y="164.6" font-size="14.8" fill="#141414" stroke="#141414" stroke-width="0.25" >接口</text>
<text x="422.4" y="164.2" font-size="14.8" fill="#141414" stroke="#141414" stroke-width="0.25" >数字接口</text>
<text x="507.8" y="151.8" font-size="14.7" fill="#141414" stroke="#141414" stroke-width="0.25" ><tspan font-size="14">X</tspan>轴步进电机</text>
<text x="506.8" y="166.6" font-size="14.8" fill="#141414" stroke="#141414" stroke-width="0.25" >分辨率设置</text>
<text x="616.4" y="204.6" font-size="14.8" fill="#141414" stroke="#141414" stroke-width="0.25" >无线编程</text>
<text x="616.4" y="219.6" font-size="14.8" fill="#141414" stroke="#141414" stroke-width="0.25" >开关</text>
<text x="621.2" y="292.2" font-size="14.8" fill="#141414" stroke="#141414" stroke-width="0.25" >Xbee、蓝牙</text>
<text x="621.0" y="307.4" font-size="14.8" fill="#141414" stroke="#141414" stroke-width="0.25" >插槽</text>
<text x="54.8" y="299.2" font-size="16.3" fill="#141414" stroke="#141414" stroke-width="0.25" >8~35V 电压输入</text>
<text x="242.6" y="439.0" font-size="14.7" fill="#141414" stroke="#141414" stroke-width="0.25" >Y 轴步进电机接口</text>
<text x="450.2" y="435.0" font-size="14.8" fill="#141414" stroke="#141414" stroke-width="0.25" >模拟接口</text>
<text x="544.2" y="430.6" font-size="14.7" fill="#141414" stroke="#141414" stroke-width="0.25" ><tspan font-size="14">Y</tspan>轴步进电机</text>
<text x="543.8" y="445.6" font-size="14.8" fill="#141414" stroke="#141414" stroke-width="0.25" >分辨率设置</text>
</svg>
</body></html>
